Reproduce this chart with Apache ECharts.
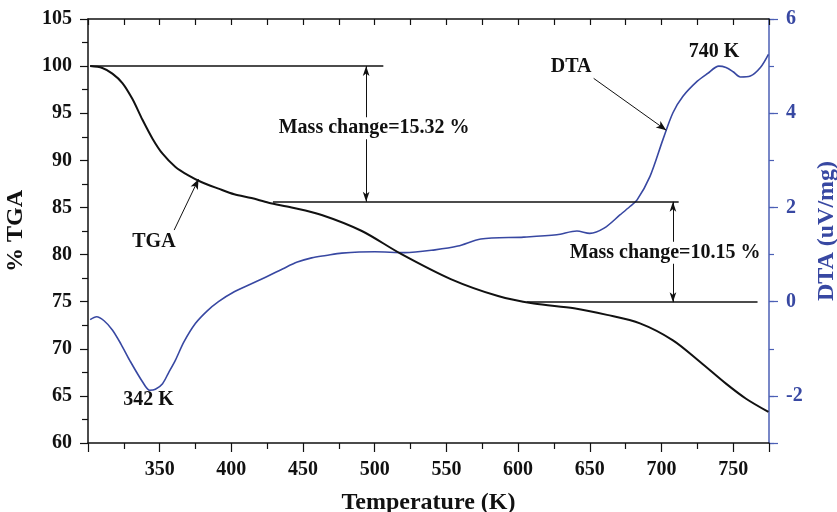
<!DOCTYPE html>
<html><head><meta charset="utf-8">
<script src="https://cdn.jsdelivr.net/npm/echarts@6/dist/echarts.min.js"></script>
<style>html,body{margin:0;padding:0;background:#fff}#c{width:837px;height:512px}</style>
</head><body><div id="c"></div>
<script>
// TGA curve (% mass vs temperature K)
const tgaTemp  = [301.5,310,317,324,331,338,345,352,361,370,379,391,402,414,426,442,463,491,518,553,586,611,639,662,685,708,727,745,759,774.6];
const tgaValue = [100.0,99.8,99.2,98.2,96.5,94.3,92.3,90.7,89.3,88.4,87.7,87.0,86.4,86.0,85.5,85.0,84.2,82.5,80.1,77.4,75.6,74.8,74.3,73.6,72.7,70.9,68.6,66.3,64.7,63.3];
// DTA curve (uV/mg vs temperature K)
const dtaTemp  = [301.5,306,311,317,323,329,338,343,347,352,356,361,367,375,383,391,402,414,426,436,446,456,466,477,500,521,542,558,574,604,627,641,650,660,671,678,683,692,701,708,715,725,732,740,745,750,755,762,769,774.6];
const dtaValue = [-0.38,-0.32,-0.40,-0.60,-0.90,-1.24,-1.70,-1.88,-1.86,-1.74,-1.52,-1.24,-0.85,-0.46,-0.20,0.00,0.21,0.38,0.55,0.70,0.84,0.93,0.98,1.03,1.06,1.04,1.10,1.18,1.33,1.37,1.42,1.50,1.45,1.56,1.84,2.02,2.16,2.66,3.44,4.01,4.36,4.68,4.84,5.00,4.97,4.88,4.77,4.79,4.97,5.25];
// plateau levels (% TGA) and their temperature spans
const plateauLevel = [100, 85.6, 74.95];
const plateauFrom  = [301.5, 429, 606];
const plateauTo    = [506, 712, 767];
// mass change double arrows
const stepTemp   = [494, 708];
const stepTop    = [100, 85.6];
const stepBottom = [85.6, 74.95];
// pointer arrows (TGA label -> curve, DTA label -> curve), in (K, % TGA)
const pointerFromX = [360.1, 652.7];
const pointerFromY = [82.6, 98.7];
const pointerToX   = [377.1, 703.3];
const pointerToY   = [88.0, 93.2];
// text annotations, in (K, % TGA)
const annoText = ['Mass change=15.32 %', 'Mass change=10.15 %', 'TGA', 'DTA', '342 K', '740 K'];
const annoX    = [499.6, 702.5, 346, 637, 342.2, 736.6];
const annoY    = [93.4, 80.2, 81.3, 99.9, 64.6, 101.5];
// axis ranges
const xMin = 300, xMax = 775;
const tgaMin = 60, tgaMax = 105;
const dtaMin = -3, dtaMax = 6;

const FONT = "'Liberation Serif','Times New Roman',serif";
const BLUE = '#3848a2';
const AXBLUE = '#4b5fb5';

const chart = echarts.init(document.getElementById('c'), null, {renderer:'canvas'});

const markLines = [];
plateauLevel.forEach((lv, i) => {
  markLines.push([
    {coord:[plateauFrom[i], lv], symbol:'none', lineStyle:{width:1.5, color:'#111', type:'solid'}},
    {coord:[plateauTo[i], lv], symbol:'none'}
  ]);
});
stepTemp.forEach((t, i) => {
  markLines.push([
    {coord:[t, stepTop[i]], symbol:'arrow', symbolSize:[5,10], lineStyle:{width:1, color:'#111', type:'solid'}},
    {coord:[t, stepBottom[i]], symbol:'arrow', symbolSize:[5,10]}
  ]);
});
pointerFromX.forEach((x, i) => {
  markLines.push([
    {coord:[x, pointerFromY[i]], symbol:'none', lineStyle:{width:1, color:'#111', type:'solid'}},
    {coord:[pointerToX[i], pointerToY[i]], symbol:'arrow', symbolSize:[6,10]}
  ]);
});

const annoData = annoText.map((t, i) => ({
  value:[annoX[i], annoY[i]],
  label:{
    formatter:t,
    backgroundColor: t.startsWith('Mass') ? '#fff' : 'transparent',
    padding: t.startsWith('Mass') ? [1,0,1,0] : 0
  }
}));

chart.setOption({
  animation:false,
  backgroundColor:'#fff',
  grid:{left:88, right:68, top:19, bottom:69, containLabel:false, outerBoundsMode:'none'},
  xAxis:[{
    type:'value', min:xMin, max:xMax, interval:50, position:'bottom',
    name:'Temperature (K)', nameLocation:'middle', nameGap:48,
    nameTextStyle:{fontFamily:FONT, fontWeight:'bold', fontSize:24, color:'#111'},
    axisLine:{show:true, onZero:false, lineStyle:{color:'#111', width:1.5}},
    axisTick:{show:true, inside:false, length:9, lineStyle:{color:'#111', width:1.2}},
    minorTick:{show:true, splitNumber:2, length:6, lineStyle:{color:'#111', width:1.2}},
    axisLabel:{fontFamily:FONT, fontWeight:'bold', fontSize:20, color:'#111', margin:17,
      formatter:v => (v === 300 || v === 775 ? '' : String(v))},
    splitLine:{show:false}
  },{
    type:'value', min:xMin, max:xMax, interval:25, position:'top',
    axisLine:{show:true, onZero:false, lineStyle:{color:'#111', width:1.5}},
    axisTick:{show:true, inside:true, length:6, lineStyle:{color:'#111', width:1.2}},
    axisLabel:{show:false}, splitLine:{show:false}
  }],
  yAxis:[{
    type:'value', min:tgaMin, max:tgaMax, interval:5, position:'left',
    name:'% TGA', nameLocation:'middle', nameGap:60, nameRotate:90,
    nameTextStyle:{fontFamily:FONT, fontWeight:'bold', fontSize:24, color:'#111'},
    axisLine:{show:true, onZero:false, lineStyle:{color:'#111', width:1.5}},
    axisTick:{show:true, length:8, lineStyle:{color:'#111', width:1.2}},
    minorTick:{show:true, splitNumber:2, length:6, lineStyle:{color:'#111', width:1.2}},
    axisLabel:{fontFamily:FONT, fontWeight:'bold', fontSize:20, color:'#111', margin:16},
    splitLine:{show:false}
  },{
    type:'value', min:dtaMin, max:dtaMax, interval:1, position:'right',
    axisLine:{show:true, onZero:false, lineStyle:{color:AXBLUE, width:1.5}},
    axisTick:{show:true, length:5, lineStyle:{color:AXBLUE, width:1.2}},
    axisLabel:{show:false}, splitLine:{show:false}
  },{
    type:'value', min:dtaMin, max:dtaMax, position:'right', splitNumber:5,
    name:'DTA (uV/mg)', nameLocation:'middle', nameGap:46, nameRotate:90,
    nameTextStyle:{fontFamily:FONT, fontWeight:'bold', fontSize:24, color:BLUE},
    axisLine:{show:false, onZero:false},
    axisTick:{show:true, length:9, lineStyle:{color:AXBLUE, width:1.2}},
    axisLabel:{fontFamily:FONT, fontWeight:'bold', fontSize:20, color:BLUE, margin:17,
      formatter:v => (Math.abs(v % 2) === 1 ? '' : String(v))},
    splitLine:{show:false}
  }],
  series:[{
    name:'DTA', type:'line', xAxisIndex:0, yAxisIndex:1,
    data:dtaTemp.map((t, i) => [t, dtaValue[i]]),
    smooth:0.3, symbol:'none', lineStyle:{color:BLUE, width:1.6}, z:3
  },{
    name:'TGA', type:'line', xAxisIndex:0, yAxisIndex:0,
    data:tgaTemp.map((t, i) => [t, tgaValue[i]]),
    smooth:0.3, symbol:'none', lineStyle:{color:'#111', width:2}, z:4,
    markLine:{silent:true, animation:false, label:{show:false}, emphasis:{disabled:true},
      lineStyle:{color:'#111', type:'solid'}, data:markLines}
  },{
    name:'annotations', type:'scatter', xAxisIndex:0, yAxisIndex:0,
    data:annoData, symbolSize:0, silent:true, z:10,
    itemStyle:{color:'#111'},
    label:{show:true, position:'inside', fontFamily:FONT, fontWeight:'bold', fontSize:20,
      color:'#111', textBorderWidth:0, textBorderColor:'transparent', opacity:1}
  }]
});
</script></body></html>
